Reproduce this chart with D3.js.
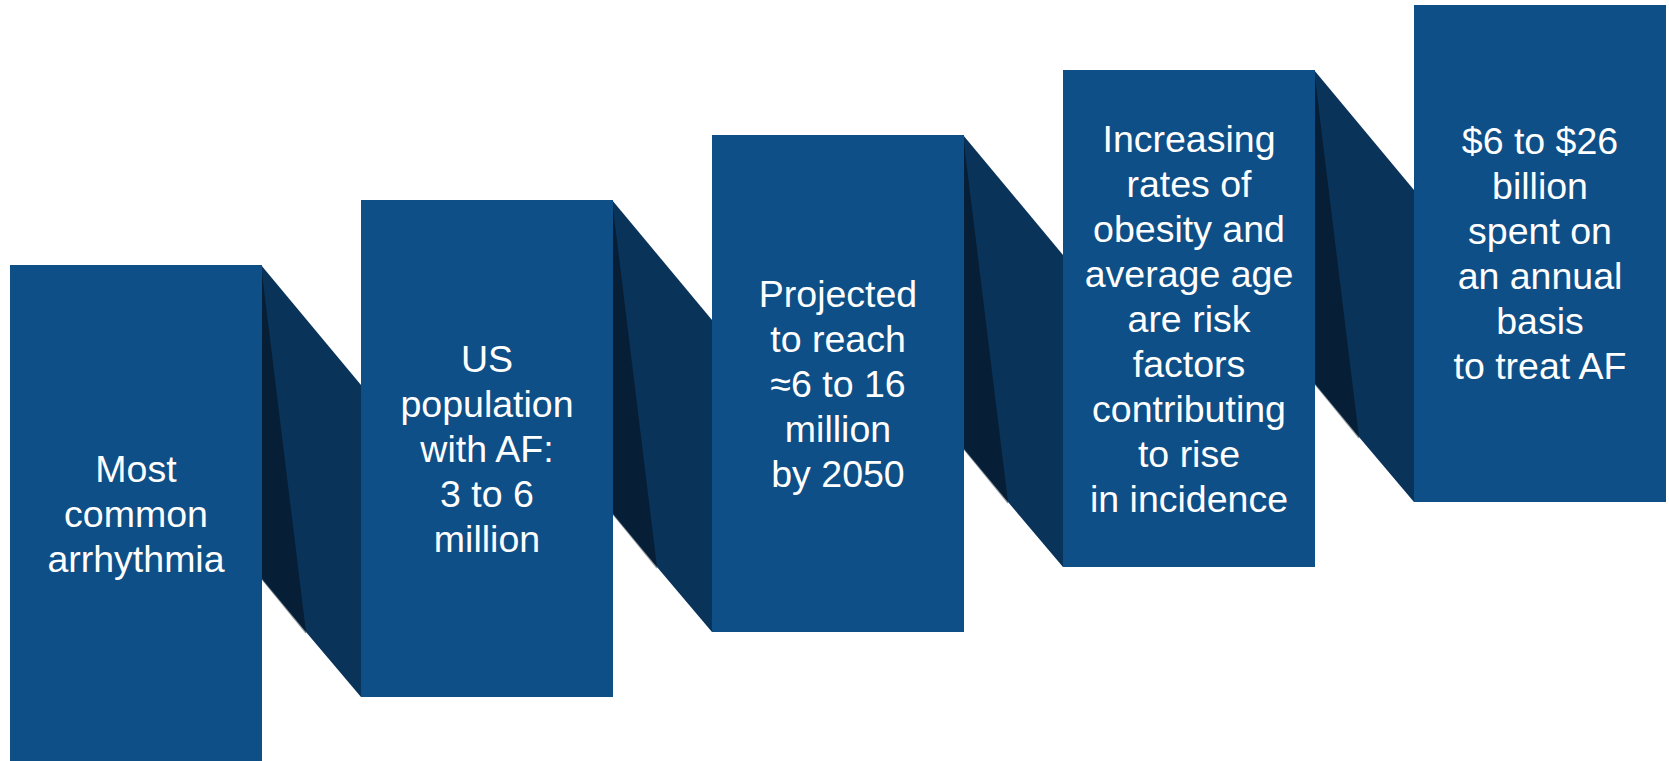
<!DOCTYPE html>
<html>
<head>
<meta charset="utf-8">
<script src="https://cdn.jsdelivr.net/npm/d3@7"></script>
<style>
  html, body { margin: 0; padding: 0; background: #ffffff; }
  svg { display: block; }
</style>
</head>
<body>
<svg id="chart" width="1669" height="761"></svg>
<script>
// Steps of the ribbon, left to right; each entry holds the lines of one panel
const steps = [0, 1, 2, 3, 4];
const panelLines = [
  ["Most", "common", "arrhythmia"],
  ["US", "population", "with AF:", "3 to 6", "million"],
  ["Projected", "to reach", "\u22486 to 16", "million", "by 2050"],
  ["Increasing", "rates of", "obesity and", "average age", "are risk", "factors", "contributing", "to rise", "in incidence"],
  ["$6 to $26", "billion", "spent on", "an annual", "basis", "to treat AF"]
];

const panelW = 252, panelH = 497;
const lineH = 45;

const svg = d3.select("#chart");

// Horizontal position and top edge of each panel climb step by step
const xPos = d3.scaleLinear().domain([0, 4]).range([10, 1414]);
const yTop = d3.scaleLinear().domain([0, 4]).range([265, 5]);

const colors = { panel: "#0f4f87", fold: "#0a3359", shade: "#071f36" };

// Folds joining one panel to the next
const folds = svg.append("g").attr("class", "folds");
steps.slice(0, -1).forEach(i => {
  const xr = xPos(i) + panelW;
  const xn = xPos(i + 1);
  const t = yTop(i);
  const nextBottom = yTop(i + 1) + panelH;
  const drop = (nextBottom - t) - 119;        // where the lower fold edge leaves the panel
  const apex = [xr + 44, t + drop + 54];

  folds.append("line")
    .attr("x1", xr).attr("y1", t + drop + 1)
    .attr("x2", apex[0]).attr("y2", apex[1] + 1)
    .attr("stroke", "#9a9a9a").attr("stroke-width", 1.2);

  folds.append("polygon")
    .attr("points", [[xr - 1, t], [xn, t + 120], [xn, nextBottom], apex, [xr - 1, t + drop]].map(p => p.join(",")).join(" "))
    .attr("fill", colors.fold);

  folds.append("polygon")
    .attr("points", [[xr - 1, t], [xr, t], [xr, t], [xr - 1, t + drop], [xr, t + drop], apex].map(p => p.join(",")).join(" "))
    .attr("fill", colors.shade);
});

// Panels with their centred captions
const panels = svg.append("g").attr("class", "panels")
  .selectAll("g")
  .data(steps)
  .join("g");

panels.append("rect")
  .attr("x", d => xPos(d))
  .attr("y", d => yTop(d))
  .attr("width", panelW)
  .attr("height", panelH)
  .attr("fill", colors.panel);

panels.append("text")
  .attr("fill", "#ffffff")
  .attr("font-family", "'Liberation Sans', Arial, sans-serif")
  .attr("font-size", 37.5)
  .attr("text-anchor", "middle")
  .each(function (d) {
    const lines = panelLines[d];
    const cx = xPos(d) + panelW / 2;
    const cy = yTop(d) + panelH / 2;
    const first = cy - (lines.length - 1) * lineH / 2 + 13;
    d3.select(this).selectAll("tspan")
      .data(lines)
      .join("tspan")
      .attr("x", cx)
      .attr("y", (l, k) => first + k * lineH)
      .text(l => l);
  });
</script>
</body>
</html>
